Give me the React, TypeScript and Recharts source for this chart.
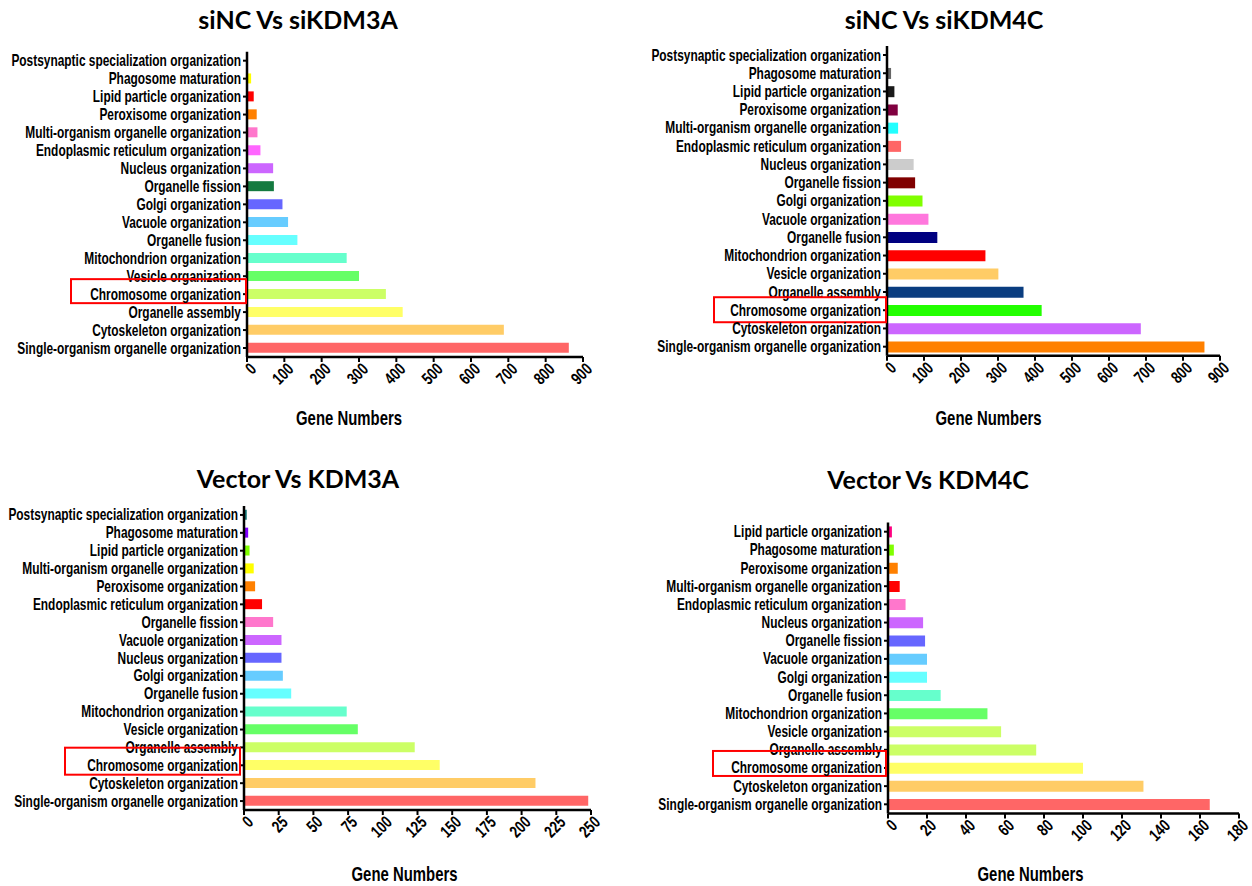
import React from 'react';
import { BarChart, Bar, XAxis, YAxis, Cell } from 'recharts';

// --- data (top bar first) ---
const categoriesA = [
  'Postsynaptic specialization organization', 'Phagosome maturation', 'Lipid particle organization',
  'Peroxisome organization', 'Multi-organism organelle organization', 'Endoplasmic reticulum organization',
  'Nucleus organization', 'Organelle fission', 'Golgi organization', 'Vacuole organization',
  'Organelle fusion', 'Mitochondrion organization', 'Vesicle organization', 'Chromosome organization',
  'Organelle assembly', 'Cytoskeleton organization', 'Single-organism organelle organization',
];
const valuesA = [3, 11, 18, 26, 28, 36, 70, 72, 95, 110, 135, 267, 300, 372, 417, 688, 862];
const colorsA = ['#eeeeee', '#ffff00', '#ff0000', '#ff8000', '#ff77cc', '#ff66ff', '#cc66ff', '#147a40', '#6666ff',
  '#66ccff', '#66ffff', '#66ffcc', '#66ff66', '#ccff66', '#ffff66', '#ffcc66', '#ff6666'];

const categoriesB = [
  'Postsynaptic specialization organization', 'Phagosome maturation', 'Lipid particle organization',
  'Peroxisome organization', 'Multi-organism organelle organization', 'Endoplasmic reticulum organization',
  'Nucleus organization', 'Organelle fission', 'Golgi organization', 'Vacuole organization',
  'Organelle fusion', 'Mitochondrion organization', 'Vesicle organization', 'Organelle assembly',
  'Chromosome organization', 'Cytoskeleton organization', 'Single-organism organelle organization',
];
const valuesB = [3, 11, 20, 29, 30, 38, 72, 76, 96, 112, 136, 266, 301, 369, 418, 686, 858];
const colorsB = ['#f0f0f0', '#666666', '#1a1a1a', '#800040', '#22ffff', '#ff6666', '#cccccc', '#800000', '#80ff00',
  '#ff77dd', '#000080', '#ff0000', '#ffcc66', '#0a3d80', '#22ff00', '#cc66ff', '#ff8000'];

const categoriesC = [
  'Postsynaptic specialization organization', 'Phagosome maturation', 'Lipid particle organization',
  'Multi-organism organelle organization', 'Peroxisome organization', 'Endoplasmic reticulum organization',
  'Organelle fission', 'Vacuole organization', 'Nucleus organization', 'Golgi organization',
  'Organelle fusion', 'Mitochondrion organization', 'Vesicle organization', 'Organelle assembly',
  'Chromosome organization', 'Cytoskeleton organization', 'Single-organism organelle organization',
];
const valuesC = [2, 3, 4, 7, 8, 13, 21, 27, 27, 28, 34, 74, 82, 123, 141, 210, 248];
const colorsC = ['#1a8080', '#8000ff', '#80ff00', '#ffff00', '#ff8000', '#ff0000', '#ff77cc', '#cc66ff', '#6666ff',
  '#66ccff', '#66ffff', '#66ffcc', '#66ff66', '#ccff66', '#ffff66', '#ffcc66', '#ff6666'];

const categoriesD = [
  'Lipid particle organization', 'Phagosome maturation', 'Peroxisome organization',
  'Multi-organism organelle organization', 'Endoplasmic reticulum organization', 'Nucleus organization',
  'Organelle fission', 'Vacuole organization', 'Golgi organization', 'Organelle fusion',
  'Mitochondrion organization', 'Vesicle organization', 'Organelle assembly', 'Chromosome organization',
  'Cytoskeleton organization', 'Single-organism organelle organization',
];
const valuesD = [2, 3, 5, 6, 9, 18, 19, 20, 20, 27, 51, 58, 76, 100, 131, 165];
const colorsD = ['#ff0080', '#80ff00', '#ff8000', '#ff0000', '#ff77cc', '#cc66ff', '#6666ff', '#66ccff', '#66ffff',
  '#66ffcc', '#66ff66', '#ccff66', '#ccff66', '#ffff66', '#ffcc66', '#ff6666'];

const ticks900 = [0, 100, 200, 300, 400, 500, 600, 700, 800, 900];
const ticks250 = [0, 25, 50, 75, 100, 125, 150, 175, 200, 225, 250];
const ticks180 = [0, 20, 40, 60, 80, 100, 120, 140, 160, 180];

const HIGHLIGHT = 'Chromosome organization';
// no narrow font installed -> squeeze Liberation Sans bold horizontally
const LABEL_FONT = "'Liberation Sans', Arial, sans-serif";
const TITLE_FONT = "Lato, 'Open Sans', sans-serif";

const CategoryTick = (props: any) => {
  const { x, y, payload, box } = props;
  return (
    <g>
      {payload.value === HIGHLIGHT && (
        <rect x={x + box[0]} y={y + box[2]} width={box[1] - box[0]} height={box[3] - box[2]}
          fill="none" stroke="#ff0000" strokeWidth={2} />
      )}
      <text transform={`translate(${x},${y}) scale(0.745,1)`} dy={5.5} textAnchor="end"
        fontFamily={LABEL_FONT} fontWeight="bold" fontSize={16} fill="#000">
        {payload.value}
      </text>
    </g>
  );
};

const NumberTick = (props: any) => {
  const { x, y, payload } = props;
  return (
    <text transform={`translate(${x + 6},${y + 2}) rotate(-45) scale(0.76,1)`} textAnchor="end" dy={6}
      fontFamily={LABEL_FONT} fontWeight="bold" fontSize={17} fill="#000">
      {payload.value}
    </text>
  );
};

const AxisTitle = (props: any) => {
  const { viewBox, dx, offset } = props;
  const cx = viewBox.x + viewBox.width / 2 + dx;
  const by = viewBox.y + viewBox.height - offset;
  return (
    <text transform={`translate(${cx},${by}) scale(0.71,1)`} textAnchor="middle"
      fontFamily={LABEL_FONT} fontWeight="bold" fontSize={21} fill="#000">
      Gene Numbers
    </text>
  );
};

interface PanelProps {
  title: string;
  titleX: number;
  titleY: number;
  categories: string[];
  values: number[];
  colors: string[];
  ticks: number[];
  left: number;
  top: number;
  width: number;
  height: number;
  margin: { top: number; right: number; bottom: number; left: number };
  yWidth: number;
  xHeight: number;
  labelDx: number;
  labelOffset: number;
  box: number[];
}

const Panel: React.FC<PanelProps> = (p) => {
  const data = p.categories.map((name, i) => ({ name, value: p.values[i] }));
  return (
    <>
      <div style={{
        position: 'absolute', left: p.titleX - 200, top: p.titleY - 17, width: 400, textAlign: 'center',
        fontFamily: TITLE_FONT, fontWeight: 'bold', fontSize: 25, lineHeight: '34px', color: '#000',
      }}>{p.title}</div>
      <div style={{ position: 'absolute', left: p.left, top: p.top }}>
        <BarChart width={p.width} height={p.height} data={data} layout="vertical" margin={p.margin} barCategoryGap="21%">
          <XAxis type="number" domain={[0, p.ticks[p.ticks.length - 1]]} ticks={p.ticks} interval={0}
            height={p.xHeight} axisLine={{ stroke: '#000', strokeWidth: 2.5 }} tickLine={{ stroke: '#000', strokeWidth: 2 }}
            tickSize={5} tick={<NumberTick />}
            label={<AxisTitle dx={p.labelDx} offset={p.labelOffset} />} />
          <YAxis type="category" dataKey="name" width={p.yWidth} interval={0}
            axisLine={{ stroke: '#000', strokeWidth: 2.5 }} tickLine={{ stroke: '#000', strokeWidth: 2 }}
            tickSize={4} tickMargin={2} tick={<CategoryTick box={p.box} />} />
          <Bar dataKey="value" isAnimationActive={false}>
            {data.map((d, i) => <Cell key={d.name} fill={p.colors[i]} />)}
          </Bar>
        </BarChart>
      </div>
    </>
  );
};

export default function App() {
  return (
    <div style={{ position: 'absolute', left: 0, top: 0, width: 1252, height: 886, background: '#fff', overflow: 'hidden' }}>
      <Panel title="siNC Vs siKDM3A" titleX={298} titleY={19} categories={categoriesA} values={valuesA} colors={colorsA}
        ticks={ticks900} left={0} top={40} width={620} height={390}
        margin={{ top: 11.7, right: 37, bottom: 0, left: 0 }} yWidth={247} xHeight={73} labelDx={-66} labelOffset={7}
        box={[-170, 5, -15, 9]} />
      <Panel title="siNC Vs siKDM4C" titleX={944} titleY={19} categories={categoriesB} values={valuesB} colors={colorsB}
        ticks={ticks900} left={640} top={40} width={612} height={390}
        margin={{ top: 5.9, right: 32, bottom: 0, left: 0 }} yWidth={247} xHeight={74.2} labelDx={-65} labelOffset={7}
        box={[-167, 5, -13, 12]} />
      <Panel title="Vector Vs KDM3A" titleX={298} titleY={478} categories={categoriesC} values={valuesC} colors={colorsC}
        ticks={ticks250} left={0} top={460} width={620} height={426}
        margin={{ top: 46, right: 29, bottom: 0, left: 0 }} yWidth={244} xHeight={76} labelDx={-13} labelOffset={11}
        box={[-173, 2, -17.6, 9.4]} />
      <Panel title="Vector Vs KDM4C" titleX={928} titleY={479} categories={categoriesD} values={valuesD} colors={colorsD}
        ticks={ticks180} left={640} top={460} width={612} height={426}
        margin={{ top: 62.6, right: 13, bottom: 0, left: 0 }} yWidth={248} xHeight={72.6} labelDx={-33} labelOffset={3}
        box={[-169, 4, -17, 8]} />
    </div>
  );
}
